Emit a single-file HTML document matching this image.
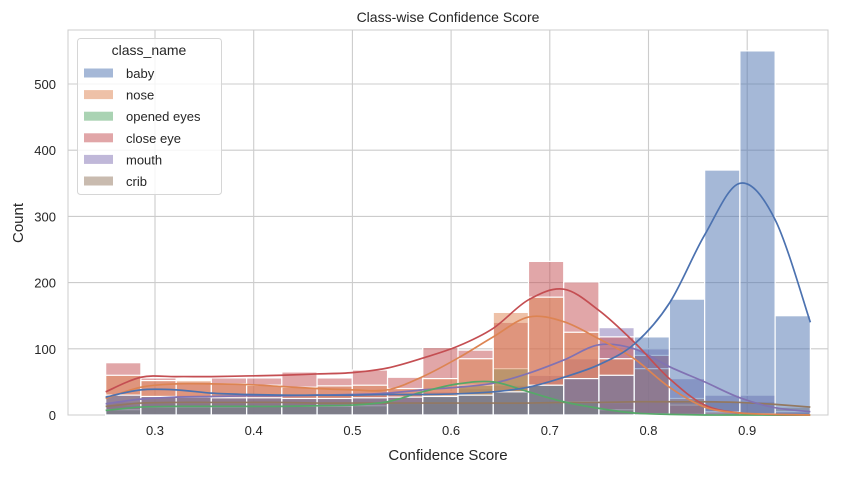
<!DOCTYPE html>
<html><head><meta charset="utf-8"><style>
body{margin:0;background:#fff;}
svg text{font-family:"Liberation Sans","DejaVu Sans",sans-serif;fill:#262626;}
</style></head><body>
<svg id="chart" width="854" height="473" viewBox="0 0 854 473" xmlns="http://www.w3.org/2000/svg">
<rect x="68" y="30" width="760" height="385" fill="#fff" stroke="#cccccc" stroke-width="1"/>
<g id="grid"></g>
<g id="bars"></g>
<g id="kdes"></g>
<g id="ticks"></g>
<text x="448" y="22" text-anchor="middle" font-size="14">Class-wise Confidence Score</text>
<text x="448" y="460" text-anchor="middle" font-size="15">Confidence Score</text>
<text x="23" y="223" text-anchor="middle" font-size="15" transform="rotate(-90 23 223)">Count</text>
<g id="legend">
<rect x="77.5" y="38.5" width="144" height="156" rx="3" fill="#fff" fill-opacity="0.8" stroke="#d6d6d6"/>
<text x="149" y="55" text-anchor="middle" font-size="14">class_name</text>
</g>
</svg>
<script>
const categories = ["baby","nose","opened eyes","close eye","mouth","crib"];
const colors = ["#4c72b0","#dd8452","#55a868","#c44e52","#8172b3","#937860"];
const binStart = 0.25, binWidth = 0.0357;
const xTicks = [0.3,0.4,0.5,0.6,0.7,0.8,0.9];
const yTicks = [0,100,200,300,400,500];
const histBaby = [30,28,27,26,26,25,25,26,27,28,30,35,45,55,60,118,175,370,550,150];
const histNose = [60,52,52,47,45,42,44,45,40,55,85,155,178,125,85,70,25,5,2,0];
const histOpened = [8,12,12,12,13,13,13,14,18,30,45,70,45,20,8,2,1,0,0,0];
const histClose = [79,56,50,56,56,65,56,68,57,102,98,140,232,201,118,90,15,3,1,0];
const histMouth = [20,28,30,28,30,30,30,30,32,35,40,45,60,85,132,100,55,30,30,5];
const histCrib = [15,18,18,18,18,18,17,17,17,17,18,18,18,18,18,20,20,20,20,12];
const kdeBaby = [27,38,38,33,31,30,30,30,31,31,32,35,42,57,76,107,169,272,350,295,140];
const kdeNose = [25,42,47,47,46,43,40,38,38,58,86,118,148,141,115,85,42,12,3,1,0];
const kdeOpened = [7,12,13,13,13,13,14,15,20,35,47,50,35,20,10,3,1,0,0,0,0];
const kdeClose = [35,57,58,58,59,60,62,64,71,86,104,131,174,190,158,110,55,15,3,0,0];
const kdeMouth = [17,24,27,28,29,29,30,31,33,38,42,48,63,83,106,100,73,50,26,11,5];
const kdeCrib = [13,18,19,19,19,19,18,18,18,18,18,18,18,19,19,20,20,20,19,16,12];

const hists = [histBaby,histNose,histOpened,histClose,histMouth,histCrib];
const kdes = [kdeBaby,kdeNose,kdeOpened,kdeClose,kdeMouth,kdeCrib];
const NS="http://www.w3.org/2000/svg";
const X0=68,X1=828,Y0=415,Y1=30;
function xs(v){return 155+(v-0.3)*987;}
function ys(v){return 415-v*0.662;}
function mk(tag,attrs,parent){const e=document.createElementNS(NS,tag);for(const k in attrs)e.setAttribute(k,attrs[k]);parent.appendChild(e);return e;}
const grid=document.getElementById('grid'),ticks=document.getElementById('ticks');
xTicks.forEach(t=>{
  const l=mk('line',{x1:xs(t),x2:xs(t),y1:Y1,y2:Y0,stroke:'#cccccc','stroke-width':1.1},grid);
  
  
  const tx=mk('text',{x:xs(t),y:Y0+20,'text-anchor':'middle','font-size':13},ticks);
  tx.textContent=t.toFixed(1);
  
  
});
yTicks.forEach(t=>{
  const l=mk('line',{x1:X0,x2:X1,y1:ys(t),y2:ys(t),stroke:'#cccccc','stroke-width':1.1},grid);
  
  
  const tx=mk('text',{x:X0-12,y:ys(t)+5,'text-anchor':'end','font-size':13},ticks);
  tx.textContent=t;
  
  
});
const bars=document.getElementById('bars');
for(let c=categories.length-1;c>=0;c--){
  hists[c].forEach((v,i)=>{
    if(v<=0)return;
    const a=xs(binStart+i*binWidth),b=xs(binStart+(i+1)*binWidth);
    const r=mk('rect',{x:a,y:ys(v),width:b-a,height:ys(0)-ys(v),fill:colors[c],'fill-opacity':0.5,stroke:'#fff','stroke-width':1.2},bars);
    
    
  });
}
const kg=document.getElementById('kdes');
function smooth(pts){let d='M'+pts[0][0]+','+pts[0][1];for(let i=0;i<pts.length-1;i++){const p0=pts[i-1]||pts[i],p1=pts[i],p2=pts[i+1],p3=pts[i+2]||p2;const c1=[p1[0]+(p2[0]-p0[0])/6,p1[1]+(p2[1]-p0[1])/6],c2=[p2[0]-(p3[0]-p1[0])/6,p2[1]-(p3[1]-p1[1])/6];d+=' C'+c1+' '+c2+' '+p2;}return d;}
for(let c=categories.length-1;c>=0;c--){
  const pts=kdes[c].map((v,i)=>[xs(binStart+i*binWidth),ys(v)]);
  const p=mk('path',{d:smooth(pts),fill:'none',stroke:colors[c],'stroke-width':1.7},kg);
  
  
}
const lg=document.getElementById('legend');
categories.forEach((n,i)=>{
  const y=73+i*21.6;
  const r=mk('rect',{x:84,y:y-4.5,width:29,height:9,fill:colors[i],'fill-opacity':0.5},lg);
  
  
  const t=mk('text',{x:126,y:y+5,'font-size':13},lg);
  t.textContent=n;
  
  
});
</script>
</body></html>
